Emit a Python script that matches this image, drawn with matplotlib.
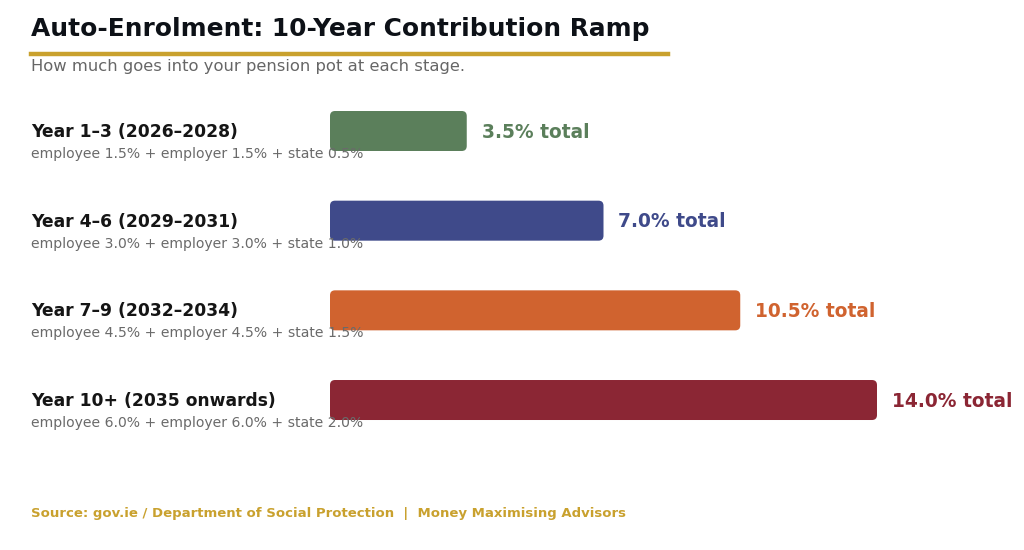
import matplotlib
matplotlib.use("Agg")
import matplotlib.pyplot as plt
from matplotlib.patches import FancyBboxPatch
from matplotlib import transforms

# data
stages = ["Year 1–3 (2026–2028)", "Year 4–6 (2029–2031)",
          "Year 7–9 (2032–2034)", "Year 10+ (2035 onwards)"]
employee = [1.5, 3.0, 4.5, 6.0]
employer = [1.5, 3.0, 4.5, 6.0]
state = [0.5, 1.0, 1.5, 2.0]
totals = [3.5, 7.0, 10.5, 14.0]
colors = ["#5B7F5B", "#3F4A8A", "#D0632F", "#8B2634"]

GOLD = "#C9A12E"

W, H = 1024, 550
fig = plt.figure(figsize=(W / 100, H / 100), dpi=100)
ax = fig.add_axes([0, 0, 1, 1])
ax.axis("off")

# pixel layout: bar origin at x=330px, 14% reaches 877px; rows at 131px, spacing ~89.7px
px_x = (877 - 330) / 14.0
px_y = 89.67
ax.set_xlim(-330 / px_x, (W - 330) / px_x)
ax.set_ylim((H - 131) / px_y, -131 / px_y)

bar_h = 40 / px_y
aspect = (1 / px_y) / (1 / px_x)
lab = transforms.blended_transform_factory(fig.transFigure, ax.transData)

for i, (name, t) in enumerate(zip(stages, totals)):
    box = FancyBboxPatch((0, i - bar_h / 2), t, bar_h,
                         boxstyle="round,pad=0,rounding_size=%f" % (5 / px_x),
                         mutation_aspect=aspect, facecolor=colors[i],
                         edgecolor="none")
    ax.add_patch(box)
    ax.text(t + 15 / px_x, i + 1 / px_y, f"{t:.1f}% total", color=colors[i],
            fontsize=13.4, fontweight="bold", va="center", ha="left")
    ax.text(31 / W, i + 1 / px_y, name, transform=lab, fontsize=12.3,
            fontweight="bold", color="#151515", va="center", ha="left")
    sub = f"employee {employee[i]:.1f}% + employer {employer[i]:.1f}% + state {state[i]:.1f}%"
    ax.text(31 / W, i + 23 / px_y, sub, transform=lab, fontsize=10.1,
            color="#6a6a6a", va="center", ha="left")

fig.text(31 / W, 1 - 29 / H, "Auto-Enrolment: 10-Year Contribution Ramp",
         fontsize=17.9, fontweight="bold", color="#0d1117", va="center", ha="left")
fig.add_artist(plt.Line2D([31 / W, 668 / W], [1 - 54 / H, 1 - 54 / H],
                          color=GOLD, linewidth=3.2, transform=fig.transFigure))
fig.text(31 / W, 1 - 66 / H, "How much goes into your pension pot at each stage.",
         fontsize=11.8, color="#666666", va="center", ha="left")
fig.text(31 / W, 1 - 513 / H,
         "Source: gov.ie / Department of Social Protection  |  Money Maximising Advisors",
         fontsize=9.5, fontweight="bold", color=GOLD, va="center", ha="left")

fig.savefig("out.png", dpi=100, facecolor="white")
